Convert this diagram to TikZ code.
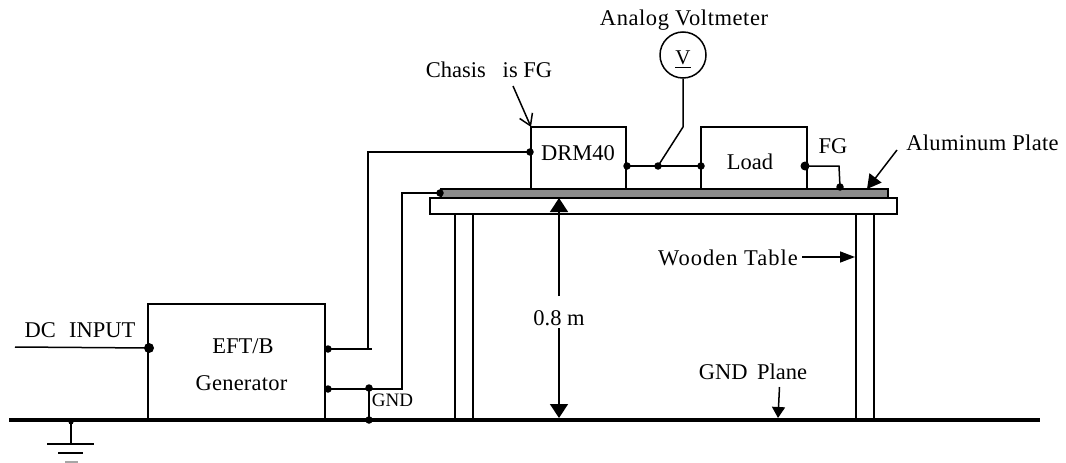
\documentclass[tikz,border=0pt]{standalone}
\usepackage{fontspec}
\setmainfont{Liberation Serif}
\usepackage{tikz}
\usetikzlibrary{arrows.meta}
\tikzset{
    dot/.style = {circle, fill, inner sep = 0pt, minimum size = 7.5pt},
    lbl/.style = {inner sep = 0pt, font = \fontsize{22.5}{26}\selectfont},
    box/.style = {rectangle, draw, line width = 1.5pt, inner sep = 0pt, outer sep = 0pt},
    bighead/.style = {-{Triangle[length = 14pt, width = 18pt]}},
    midhead/.style = {-{Triangle[length = 14pt, width = 15pt]}}
}
\begin{document}
\begin{tikzpicture}[x = 1pt, y = -1pt, line width = 1.5pt]
\useasboundingbox (0,0) rectangle (1066,463);
% ground plane and boxes
\draw (9,420) coordinate(g1) (1040,420) coordinate(g2);
\draw (236.5,362) node[box, minimum width = 177pt, minimum height = 116pt](gen){}
    (578.5,158) node[box, minimum width = 95pt, minimum height = 62pt](drm){}
    (754,158) node[box, minimum width = 106pt, minimum height = 62pt](load){}
    (663.5,206) node[box, minimum width = 467pt, minimum height = 16pt](table){}
    (664.5,193.5) node[box, fill = black!45, minimum width = 447pt, minimum height = 9pt](plate){}
    (464,317) node[box, minimum width = 18pt, minimum height = 206pt](legl){}
    (865,317) node[box, minimum width = 18pt, minimum height = 206pt](legr){}
    (683,55) node[circle, draw, line width = 1.5pt, minimum size = 46pt, inner sep = 0pt](volt){};
\draw [line width = 4pt] (g1) -- (g2);
% dots
\draw (149,348) node[dot, minimum size = 10pt](d1){}
    (328,349) node[dot](d2){}
    (328,389) node[dot](d3){}
    (369,388) node[dot](d4){}
    (369,420) node[dot](d5){}
    (530,152) node[dot](d6){}
    (440,193) node[dot](d7){}
    (627,166) node[dot](d8){}
    (658,166) node[dot](d9){}
    (701,166) node[dot](d10){}
    (805,166) node[dot, minimum size = 9pt](d11){}
    (840,187) node[dot](d12){}
    (71,422) node[dot, minimum size = 5pt](d13){};
% free ends
\draw (15,347) coordinate(c1)
    (372,349) coordinate(c2)
    (368,349) coordinate(c3)
    (402,389) coordinate(c4)
    (683,127) coordinate(c5)
    (839,166) coordinate(c6)
    (71,444) coordinate(c7)
    (676,166) coordinate(c8);
% wires
\draw [-] (c1) -- (d1.center);
\draw [-] (d2.center) -- (c2);
\draw [-] (c3) |- (d6.center);
\draw [-] (d3.center) -- (c4) |- (d7.center);
\draw [-] (d4.center) -- (d5.center);
\draw [-] (d8.center) -- (d10.center);
\draw [-, line width = 2pt] (c8) -- (d10.center);
\draw [-] (volt) -- (c5) -- (d9.center);
\draw [-] (d11.center) -- (c6) -- (d12.center);
\draw [-] (d13.center) -- (c7);
% earth symbol
\draw (47,444) coordinate(e1) (94,444) coordinate(e2)
    (58,453) coordinate(e3) (83,453) coordinate(e4)
    (65,462) coordinate(e5) (78,462) coordinate(e6);
\draw [-] (e1) -- (e2);
\draw [-] (e3) -- (e4);
\draw [-, black!35] (e5) -- (e6);
% labels
\draw (684,20) node[lbl](t1){\addfontfeature{LetterSpace=2.5}Analog Voltmeter}
    (489,70) node[lbl](t2){Chasis\,\,\, is FG}
    (578,153) node[lbl](t3){DRM40}
    (750,162) node[lbl](t4){Load}
    (833,146) node[lbl](t5){FG}
    (982.5,143) node[lbl](t6){\addfontfeature{LetterSpace=1.6}Aluminum Plate}
    (728,258) node[lbl](t7){\addfontfeature{LetterSpace=4.4}Wooden Table}
    (559,318) node[lbl](t8){0.8 m}
    (753,372) node[lbl](t9){GND\, Plane}
    (243,346) node[lbl](t10){EFT/B}
    (241.5,383) node[lbl](t11){\addfontfeature{LetterSpace=1}Generator}
    (80,330) node[lbl](t12){DC\,\, INPUT}
    (392.5,400) node[lbl, font = \fontsize{19}{22}\selectfont](t13){GND}
    (683,59.5) node[lbl, font = \fontsize{21}{24}\selectfont](t14){\vtop{\hbox{V}\kern2pt\hrule height 1.5pt}};
% pointers
\draw (513,86) coordinate(p1) (531,127) coordinate(p2)
    (897,150) coordinate(p3) (867,189) coordinate(p4)
    (802,257) coordinate(p5) (855,257) coordinate(p6)
    (779.5,387) coordinate(p7) (778,418) coordinate(p8)
    (559,198) coordinate(p9) (559,418) coordinate(p10)
    (559,296) coordinate(p11) (559,328) coordinate(p12);
\draw [-{Straight Barb[length = 11pt, width = 14pt]}] (p1) -- (p2);
\draw [midhead] (p3) -- (p4);
\draw [-{Triangle[length = 15pt, width = 11pt]}] (p5) -- (p6);
\draw [-{Triangle[length = 11pt, width = 13pt]}] (p7) -- (p8);
\draw [bighead] (p11) -- (p9);
\draw [bighead] (p12) -- (p10);
\end{tikzpicture}
\end{document}
